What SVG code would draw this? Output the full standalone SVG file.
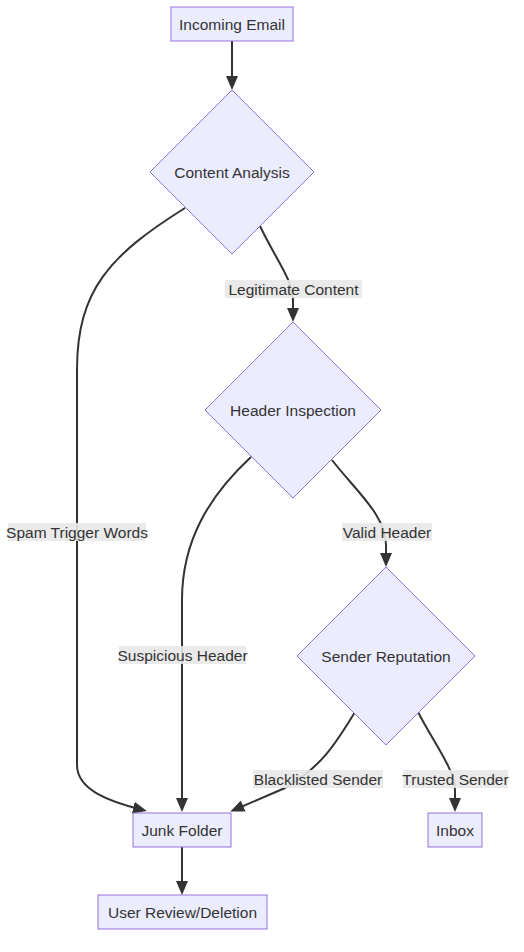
<svg xmlns="http://www.w3.org/2000/svg" width="524" height="952" viewBox="0 0 524 952">
<style>
.node{fill:#ECECFF;stroke:#9370DB;stroke-width:1}
.t{font-family:"Liberation Sans",Arial,sans-serif;font-size:15.5px;fill:#333;text-anchor:middle;dominant-baseline:central}
.e{fill:none;stroke:#333;stroke-width:2;marker-end:url(#arr)}
.lb{fill:#e8e8e8;opacity:0.9}
</style>
<defs>
<marker id="arr" viewBox="0 0 14 12" refX="10" refY="6" markerWidth="14" markerHeight="12" markerUnits="userSpaceOnUse" orient="auto">
<path d="M0,0 L14,6 L0,12 z" fill="#333"/>
</marker>
</defs>
<rect width="524" height="952" fill="#fff"/>
<g id="edges">
<path class="e" d="M232,41 L232,86"/>
<path class="e" d="M185,208 C110,255 77,290 77,370 L77,765 C77,790 110,802 143,810"/>
<path class="e" d="M260,226 C275,258 293,280 293,300 L293,318"/>
<path class="e" d="M251,457 C210,495 182,540 182,600 L182,808"/>
<path class="e" d="M332,460 C355,490 386,515 386,545 L386,563"/>
<path class="e" d="M355,712 C335,745 320,768 285,788 L234,810"/>
<path class="e" d="M418,712 C435,745 455,770 455,790 L455,808"/>
<path class="e" d="M182,847 L182,891"/>
</g>
<g id="edge-labels">
<rect class="lb" x="225" y="280" width="137" height="18"/>
<text class="t" x="293.5" y="289">Legitimate Content</text>
<rect class="lb" x="8" y="523" width="138" height="18"/>
<text class="t" x="77" y="532">Spam Trigger Words</text>
<rect class="lb" x="342" y="523" width="90" height="18"/>
<text class="t" x="387" y="532">Valid Header</text>
<rect class="lb" x="119" y="646" width="127" height="18"/>
<text class="t" x="182.5" y="655">Suspicious Header</text>
<rect class="lb" x="253" y="770" width="130" height="18"/>
<text class="t" x="318" y="779">Blacklisted Sender</text>
<rect class="lb" x="403" y="770" width="105" height="18"/>
<text class="t" x="455.5" y="779">Trusted Sender</text>
</g>
<g id="incoming">
<rect class="node" x="171" y="7" width="122" height="34"/>
<text class="t" x="232" y="24">Incoming Email</text>
</g>
<g id="content">
<polygon class="node" points="232,90 314,172 232,254 150,172"/>
<text class="t" x="232" y="172">Content Analysis</text>
</g>
<g id="header">
<polygon class="node" points="293,322 381,410 293,498 205,410"/>
<text class="t" x="293" y="410">Header Inspection</text>
</g>
<g id="sender">
<polygon class="node" points="386,567 475,656 386,745 297,656"/>
<text class="t" x="386" y="656">Sender Reputation</text>
</g>
<g id="junk">
<rect class="node" x="133" y="813" width="98" height="34"/>
<text class="t" x="182" y="830">Junk Folder</text>
</g>
<g id="inbox">
<rect class="node" x="428" y="813" width="54" height="34"/>
<text class="t" x="455" y="830">Inbox</text>
</g>
<g id="review">
<rect class="node" x="98" y="895" width="169" height="34"/>
<text class="t" x="182.5" y="912">User Review/Deletion</text>
</g>
</svg>
